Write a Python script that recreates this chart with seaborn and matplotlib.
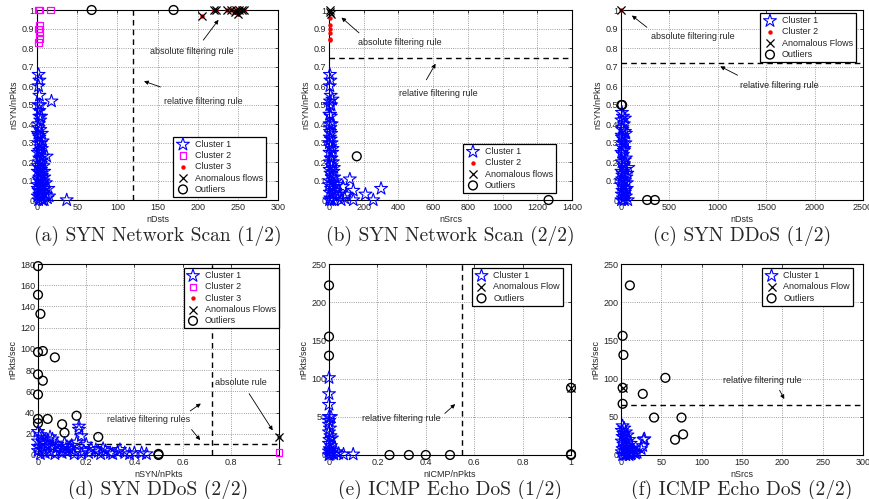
import matplotlib
matplotlib.use("Agg")
import matplotlib.pyplot as plt
import matplotlib.ticker as mticker
import seaborn as sns
import pandas as pd

sns.set_style("white")
plt.rcParams['font.family'] = ['Liberation Sans', 'DejaVu Sans']
plt.rcParams['font.size'] = 6.5

# ---- data: (x, y) pairs per series ----
# (a) SYN Network Scan (1/2): nDsts vs nSYN/nPkts
a_c1 = [(2, 0.66), (3, 0.63), (2, 0.60), (3, 0.55), (4, 0.50), (2, 0.50), (3, 0.47), (18, 0.52),
        (5, 0.44), (3, 0.44), (2, 0.40), (4, 0.37), (1, 0.35), (3, 0.33), (5, 0.30), (2, 0.30),
        (6, 0.27), (4, 0.25), (1, 0.25), (3, 0.22), (7, 0.23), (2, 0.20), (5, 0.19), (8, 0.18),
        (3, 0.17), (1, 0.15), (4, 0.14), (6, 0.13), (9, 0.12), (2, 0.11), (12, 0.23), (3, 0.10),
        (5, 0.09), (7, 0.08), (1, 0.08), (4, 0.07), (10, 0.06), (2, 0.05), (6, 0.05), (8, 0.04),
        (3, 0.03), (1, 0.02), (5, 0.02), (11, 0.03), (4, 0.01), (2, 0.0), (7, 0.0), (13, 0.01),
        (9, 0.0), (3, 0.12), (1, 0.18), (6, 0.35), (15, 0.02), (4, 0.28), (2, 0.38), (8, 0.10),
        (37, 0.0), (5, 0.16), (1, 0.06), (3, 0.26), (6, 0.21), (9, 0.15), (11, 0.09), (14, 0.06),
        (2, 0.34), (4, 0.42), (7, 0.31)]
a_c2 = [(2, 1.0), (3, 1.0), (17, 1.0), (3, 0.92), (2, 0.90), (3, 0.88), (3, 0.85), (2, 0.83)]
a_c3 = [(205, 0.97), (220, 1.0), (223, 1.0), (237, 1.0), (242, 1.0), (246, 0.99), (248, 1.0),
        (250, 0.98), (252, 1.0), (255, 1.0), (258, 1.0)]
a_anom = [(205, 0.97), (220, 1.0), (223, 1.0), (237, 1.0), (242, 1.0), (246, 0.99), (248, 1.0),
          (250, 0.98), (252, 1.0), (255, 1.0), (258, 1.0)]
a_out = [(68, 1.0), (170, 1.0)]

# (b) SYN Network Scan (2/2): nSrcs vs nSYN/nPkts
b_c1 = [(5, 0.66), (8, 0.63), (5, 0.60), (10, 0.55), (6, 0.52), (20, 0.53), (4, 0.50), (12, 0.50),
        (6, 0.45), (10, 0.44), (4, 0.40), (8, 0.38), (12, 0.35), (5, 0.33), (15, 0.30), (8, 0.28),
        (3, 0.25), (18, 0.25), (10, 0.22), (6, 0.20), (22, 0.20), (14, 0.18), (4, 0.16), (25, 0.15),
        (9, 0.14), (30, 0.12), (16, 0.12), (5, 0.10), (40, 0.10), (20, 0.09), (50, 0.08), (80, 0.07),
        (120, 0.11), (140, 0.05), (210, 0.03), (255, 0.0), (300, 0.06), (140, 0.0), (60, 0.03),
        (90, 0.01), (35, 0.05), (12, 0.06), (5, 0.04), (25, 0.03), (45, 0.02), (8, 0.01), (15, 0.0),
        (3, 0.0), (30, 0.0), (70, 0.0), (100, 0.03), (2, 0.08), (18, 0.07), (2, 0.30), (3, 0.45),
        (15, 0.40), (10, 0.32), (20, 0.27), (6, 0.36), (14, 0.22), (28, 0.17)]
b_c2 = [(5, 0.96), (5, 0.92), (5, 0.90), (6, 0.88), (5, 0.85), (6, 0.84)]
b_anom = [(5, 1.0), (10, 0.98), (3, 0.99)]
b_out = [(160, 0.23), (1265, 0.0)]

# (c) SYN DDoS (1/2): nDsts vs nSYN/nPkts
c_c1 = [(10, 0.46), (20, 0.44), (5, 0.42), (30, 0.40), (15, 0.38), (40, 0.36), (8, 0.34), (25, 0.32),
        (45, 0.30), (12, 0.28), (35, 0.27), (5, 0.25), (20, 0.24), (50, 0.22), (10, 0.20), (30, 0.19),
        (75, 0.17), (45, 0.16), (5, 0.15), (20, 0.14), (55, 0.12), (12, 0.11), (35, 0.10), (5, 0.08),
        (25, 0.07), (60, 0.06), (15, 0.05), (40, 0.04), (8, 0.03), (50, 0.02), (20, 0.01), (70, 0.0),
        (5, 0.0), (35, 0.0), (15, 0.37), (40, 0.43), (25, 0.18), (60, 0.09), (10, 0.33), (30, 0.26),
        (50, 0.35), (3, 0.10), (65, 0.14), (45, 0.05), (20, 0.30), (40, 0.21), (15, 0.13),
        (30, 0.03)]
c_c2 = [(5, 1.0)]
c_anom = [(5, 1.0)]
c_out = [(5, 0.5), (12, 0.5), (270, 0.0), (350, 0.0)]

# (d) SYN DDoS (2/2): nSYN/nPkts vs nPkts/sec
d_c1 = [(0.0, 22), (0.01, 19), (0.02, 16), (0.0, 13), (0.03, 11), (0.05, 17), (0.06, 15), (0.04, 9),
        (0.08, 7), (0.10, 6), (0.12, 8), (0.14, 5), (0.17, 27), (0.17, 24), (0.18, 18), (0.20, 10),
        (0.16, 12), (0.19, 4), (0.22, 6), (0.25, 3), (0.28, 4), (0.30, 2), (0.33, 3), (0.36, 2),
        (0.40, 2), (0.43, 2), (0.45, 1), (0.38, 1), (0.31, 1), (0.26, 1), (0.21, 2), (0.15, 1),
        (0.10, 2), (0.05, 3), (0.02, 5), (0.0, 4), (0.01, 1), (0.07, 1), (0.12, 3), (0.18, 1),
        (0.24, 5), (0.06, 8), (0.03, 2), (0.09, 4), (0.11, 11), (0.14, 9), (0.0, 8), (0.02, 12),
        (0.34, 5), (0.04, 14), (0.08, 10), (0.13, 6), (0.27, 6)]
d_c2 = [(1.0, 2)]
d_c3 = [(1.0, 17)]
d_anom = [(1.0, 17)]
d_out = [(0.0, 178), (0.0, 151), (0.01, 133), (0.0, 97), (0.02, 98), (0.07, 92), (0.0, 76),
         (0.02, 70), (0.0, 57), (0.0, 34), (0.0, 30), (0.04, 34), (0.10, 29), (0.11, 21),
         (0.16, 37), (0.25, 17), (0.5, 0), (0.5, 1)]

# (e) ICMP Echo DoS (1/2): nICMP/nPkts vs nPkts/sec
e_c1 = [(0.0, 101), (0.0, 80), (0.0, 66), (0.0, 50), (0.008, 50), (0.0, 40), (0.004, 35), (0.0, 30),
        (0.006, 25), (0.002, 20), (0.0, 15), (0.008, 12), (0.003, 8), (0.0, 5), (0.01, 3), (0.005, 1),
        (0.0, 0), (0.04, 2), (0.06, 1), (0.10, 1), (0.02, 1), (0.03, 4), (0.012, 22), (0.001, 45),
        (0.007, 6)]
e_anom = [(1.0, 88)]
e_out = [(0.0, 222), (0.0, 155), (0.0, 130), (0.25, 0), (0.33, 0), (0.40, 0), (0.50, 0),
         (1.0, 0), (1.0, 1), (1.0, 88)]

# (f) ICMP Echo DoS (2/2): nSrcs vs nPkts/sec
f_c1 = [(2, 38), (4, 35), (1, 32), (6, 30), (3, 28), (8, 26), (2, 24), (5, 22), (10, 20), (1, 18),
        (7, 17), (12, 15), (3, 14), (9, 12), (5, 10), (14, 9), (2, 8), (11, 7), (6, 6), (16, 5),
        (1, 4), (8, 3), (13, 2), (4, 1), (10, 0), (2, 0), (18, 2), (20, 3), (25, 8), (27, 12),
        (28, 20), (29, 21), (15, 4), (6, 0), (12, 1)]
f_anom = [(2, 88)]
f_out = [(11, 222), (2, 156), (3, 131), (55, 101), (2, 88), (27, 80), (2, 67), (41, 49), (75, 49),
         (77, 27), (67, 20)]

captions = ["(a) SYN Network Scan (1/2)", "(b) SYN Network Scan (2/2)", "(c) SYN DDoS (1/2)",
            "(d) SYN DDoS (2/2)", "(e) ICMP Echo DoS (1/2)", "(f) ICMP Echo DoS (2/2)"]

STYLE = {
    'star': dict(marker='*', s=95, color='b', facecolor='none', edgecolor='b', linewidth=0.8),
    'square': dict(marker='s', s=24, color='#ff00ff', facecolor='none', edgecolor='#ff00ff', linewidth=0.9),
    'dot': dict(marker='o', s=10, color='r', edgecolor='r', linewidth=0),
    'x': dict(marker='x', s=34, color='k', linewidth=0.9),
    'circle': dict(marker='o', s=40, color='k', facecolor='none', edgecolor='k', linewidth=1.0),
}


def draw(ax, pts, kind, label):
    df = pd.DataFrame(pts, columns=['x', 'y'])
    sns.scatterplot(data=df, x='x', y='y', ax=ax, label=label, clip_on=False, zorder=3, **STYLE[kind])


def frame(ax, xlim, ylim, xstep, ystep, xlabel, ylabel):
    ax.set_xlim(*xlim)
    ax.set_ylim(*ylim)
    ax.xaxis.set_major_locator(mticker.MultipleLocator(xstep))
    ax.yaxis.set_major_locator(mticker.MultipleLocator(ystep))
    ax.xaxis.set_major_formatter(mticker.FormatStrFormatter('%g'))
    ax.yaxis.set_major_formatter(mticker.FormatStrFormatter('%g'))
    ax.set_axisbelow(True)
    ax.grid(True, ls=':', color='0.5', lw=0.6)
    ax.tick_params(direction='in', length=2.5, width=0.6, labelsize=6.5, pad=2,
                   top=True, right=True)
    for sp in ax.spines.values():
        sp.set_visible(True)
        sp.set_color('k')
        sp.set_linewidth(0.8)
    ax.set_xlabel(xlabel, fontsize=6.5, labelpad=2)
    ax.set_ylabel(ylabel, fontsize=6.5, labelpad=2)


def note(ax, text, txy, tail, head):
    ax.text(txy[0], txy[1], text, fontsize=6.5, ha='center', va='center', zorder=4)
    ax.annotate('', xy=head, xytext=tail,
                arrowprops=dict(arrowstyle='-|>', color='k', lw=0.6, mutation_scale=6), zorder=4)


def legend(ax, loc, anchor):
    ax.legend(loc=loc, bbox_to_anchor=anchor, borderaxespad=0, frameon=True, fancybox=False,
              edgecolor='k', framealpha=1, fontsize=6.5, labelspacing=0.25, borderpad=0.35,
              handletextpad=0.6, handlelength=1.4).set_zorder(10)
    ax.get_legend().get_frame().set_linewidth(0.9)


W, H = 870, 499
fig = plt.figure(figsize=(W / 100, H / 100), dpi=100)


def axes_px(left, right, top, bottom):
    return fig.add_axes([left / W, 1 - bottom / H, (right - left) / W, (bottom - top) / H])


ax_a = axes_px(37, 278, 10, 200)
ax_b = axes_px(329, 572, 10, 200)
ax_c = axes_px(621, 863, 10, 200)
ax_d = axes_px(38, 279, 264, 455)
ax_e = axes_px(329, 571, 264, 455)
ax_f = axes_px(621, 863, 264, 455)

# (a)
ax = ax_a
ax.axvline(120, color='k', ls='--', lw=1.0, dashes=(4, 3), zorder=2)
draw(ax, a_c1, 'star', 'Cluster 1')
draw(ax, a_c2, 'square', 'Cluster 2')
draw(ax, a_c3, 'dot', 'Cluster 3')
draw(ax, a_anom, 'x', 'Anomalous flows')
draw(ax, a_out, 'circle', 'Outliers')
frame(ax, (0, 300), (0, 1), 50, 0.1, 'nDsts', 'nSYN/nPkts')
note(ax, 'absolute filtering rule', (193, 0.78), (205, 0.83), (228, 0.96))
note(ax, 'relative filtering rule', (207, 0.52), (157, 0.59), (130, 0.63))
legend(ax, 'lower right', (0.95, 0.016))

# (b)
ax = ax_b
ax.axhline(0.75, color='k', ls='--', lw=1.0, dashes=(4, 3), zorder=2)
draw(ax, b_c1, 'star', 'Cluster 1')
draw(ax, b_c2, 'dot', 'Cluster 2')
draw(ax, b_anom, 'x', 'Anomalous flows')
draw(ax, b_out, 'circle', 'Outliers')
frame(ax, (0, 1400), (0, 1), 200, 0.1, 'nSrcs', 'nSYN/nPkts')
note(ax, 'absolute filtering rule', (409, 0.83), (185, 0.87), (60, 0.97))
note(ax, 'relative filtering rule', (628, 0.56), (553, 0.62), (622, 0.73))
legend(ax, 'lower right', (0.934, 0.037))

# (c)
ax = ax_c
ax.axhline(0.72, color='k', ls='--', lw=1.0, dashes=(4, 3), zorder=2)
draw(ax, c_c1, 'star', 'Cluster 1')
draw(ax, c_c2, 'dot', 'Cluster 2')
draw(ax, c_anom, 'x', 'Anomalous Flows')
draw(ax, c_out, 'circle', 'Outliers')
frame(ax, (0, 2500), (0, 1), 500, 0.1, 'nDsts', 'nSYN/nPkts')
note(ax, 'absolute filtering rule', (744, 0.86), (290, 0.9), (90, 0.98))
note(ax, 'relative filtering rule', (1632, 0.60), (1230, 0.65), (1000, 0.71))
legend(ax, 'upper right', (0.971, 0.984))

# (d)
ax = ax_d
ax.axvline(0.72, color='k', ls='--', lw=1.0, dashes=(4, 3), zorder=2)
ax.axhline(10, color='k', ls='--', lw=1.0, dashes=(4, 3), zorder=2)
draw(ax, d_c1, 'star', 'Cluster 1')
draw(ax, d_c2, 'square', 'Cluster 2')
draw(ax, d_c3, 'dot', 'Cluster 3')
draw(ax, d_anom, 'x', 'Anomalous Flows')
draw(ax, d_out, 'circle', 'Outliers')
frame(ax, (0, 1), (0, 180), 0.2, 20, 'nSYN/nPkts', 'nPkts/sec')
note(ax, 'absolute rule', (0.84, 68), (0.87, 60), (0.98, 21))
note(ax, 'relative filtering rules', (0.457, 33), (0.622, 40), (0.685, 50))
ax.annotate('', xy=(0.68, 12), xytext=(0.63, 26),
            arrowprops=dict(arrowstyle='-|>', color='k', lw=0.6, mutation_scale=6), zorder=4)
legend(ax, 'upper right', (1.0, 0.979))

# (e)
ax = ax_e
ax.axvline(0.55, color='k', ls='--', lw=1.0, dashes=(4, 3), zorder=2)
draw(ax, e_c1, 'star', 'Cluster 1')
draw(ax, e_anom, 'x', 'Anomalous Flow')
draw(ax, e_out, 'circle', 'Outliers')
frame(ax, (0, 1), (0, 250), 0.2, 50, 'nICMP/nPkts', 'nPkts/sec')
note(ax, 'relative filtering rule', (0.30, 48), (0.47, 52), (0.53, 69))
legend(ax, 'upper right', (0.967, 0.979))

# (f)
ax = ax_f
ax.axhline(65, color='k', ls='--', lw=1.0, dashes=(4, 3), zorder=2)
draw(ax, f_c1, 'star', 'Cluster 1')
draw(ax, f_anom, 'x', 'Anomalous Flow')
draw(ax, f_out, 'circle', 'Outliers')
frame(ax, (0, 300), (0, 250), 50, 50, 'nSrcs', 'nPkts/sec')
note(ax, 'relative filtering rule', (175, 97), (195, 88), (204, 70))
legend(ax, 'upper right', (0.959, 0.979))

# captions under each panel
for ax, cap in zip([ax_a, ax_b, ax_c, ax_d, ax_e, ax_f], captions):
    pos = ax.get_position()
    y = 1 - 236 / H if pos.y0 > 0.5 else 1 - 490 / H
    fig.text(pos.x0 + pos.width / 2, y, cap, ha='center', va='center', fontsize=14,
             family=['cmr10', 'DejaVu Serif'])

fig.savefig('out.png', dpi=100)
